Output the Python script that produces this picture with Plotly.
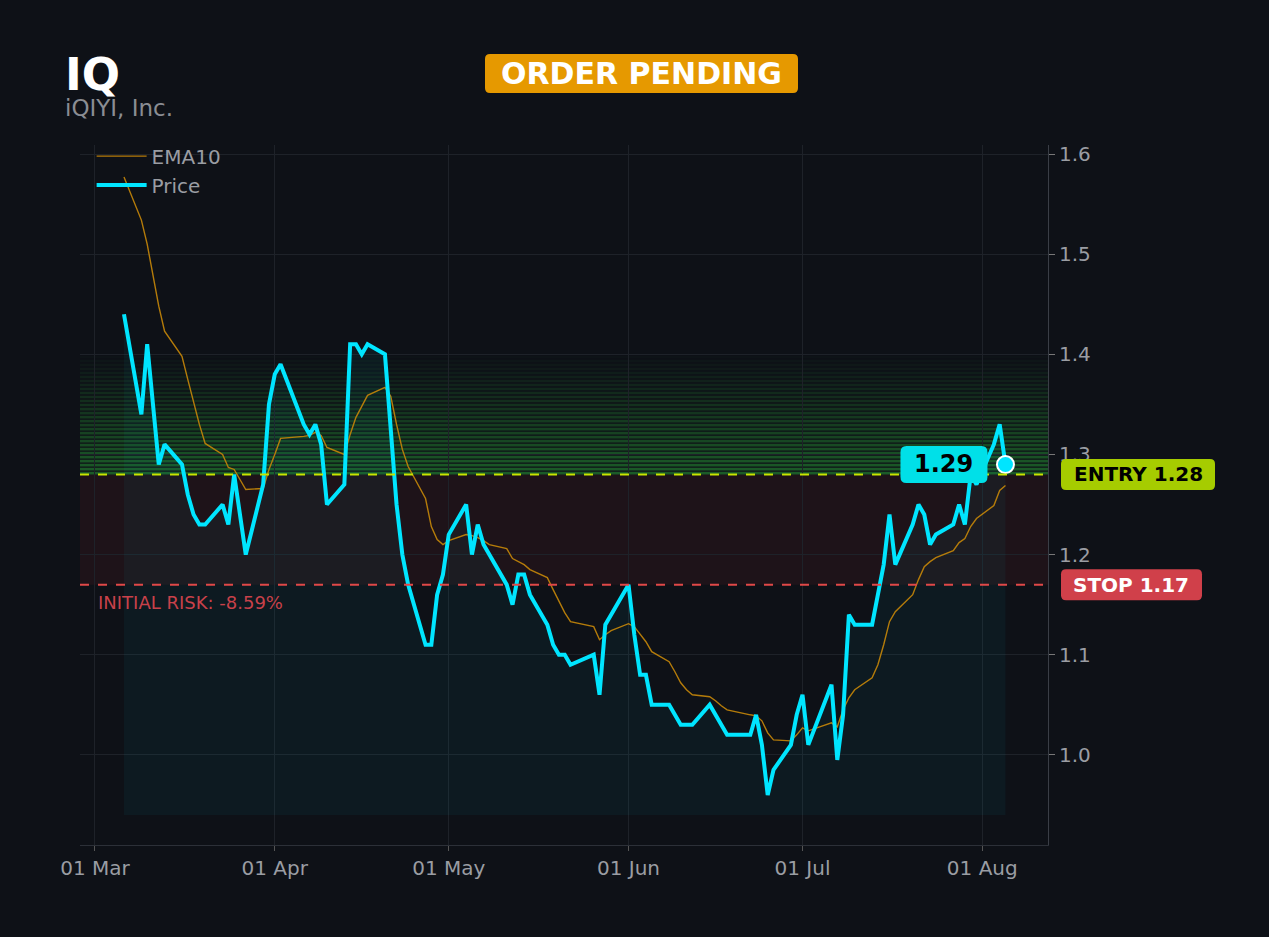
import pandas as pd
import plotly.graph_objects as go

# ---------------- data ----------------
HOLIDAYS = ["2026-04-03", "2026-05-25", "2026-06-19", "2026-07-03"]
dates = pd.bdate_range("2026-03-06", "2026-08-05", freq="C", holidays=HOLIDAYS)

price = [
    1.44,
    1.34, 1.41, 1.35, 1.29, 1.31,
    1.29, 1.26, 1.24, 1.23, 1.23,
    1.25, 1.23, 1.28, 1.24, 1.20,
    1.27, 1.35, 1.38, 1.39,
    1.33, 1.32, 1.33, 1.31, 1.25,
    1.27, 1.41, 1.41, 1.40, 1.41,
    1.40, 1.33, 1.25, 1.20, 1.17,
    1.11, 1.11, 1.16, 1.18, 1.22,
    1.25, 1.20, 1.23, 1.21, 1.20,
    1.17, 1.15, 1.18, 1.18, 1.16,
    1.13, 1.11, 1.10, 1.10, 1.09,
    1.10, 1.06, 1.13, 1.14,
    1.17, 1.12, 1.08, 1.08, 1.05,
    1.05, 1.04, 1.03, 1.03, 1.03,
    1.05, 1.04, 1.03, 1.02,
    1.02, 1.04, 1.01, 0.96, 0.985,
    1.01, 1.04, 1.06, 1.01,
    1.07, 0.995, 1.04, 1.14, 1.13,
    1.13, 1.16, 1.19, 1.24, 1.19,
    1.23, 1.25, 1.24, 1.21, 1.22,
    1.23, 1.25, 1.23, 1.28, 1.27,
    1.31, 1.33, 1.29,
]

ema10 = [
    1.577,
    1.534, 1.51, 1.48, 1.448, 1.423,
    1.398, 1.375, 1.351, 1.33, 1.311,
    1.30, 1.287, 1.285, 1.275, 1.265,
    1.266, 1.285, 1.30, 1.316,
    1.318, 1.319, 1.322, 1.319, 1.307,
    1.30, 1.32, 1.337, 1.348, 1.359,
    1.367, 1.358, 1.33, 1.305, 1.288,
    1.256, 1.228, 1.215, 1.21, 1.214,
    1.22, 1.219, 1.217, 1.214, 1.21,
    1.206, 1.196, 1.193, 1.19, 1.185,
    1.177, 1.165, 1.153, 1.142, 1.133,
    1.128, 1.115, 1.12, 1.124,
    1.131, 1.128, 1.12, 1.113, 1.103,
    1.093, 1.083, 1.072, 1.065, 1.06,
    1.058, 1.054, 1.049, 1.045,
    1.04, 1.039, 1.034, 1.022, 1.015,
    1.014, 1.02, 1.027, 1.024,
    1.032, 1.028, 1.045, 1.057, 1.065,
    1.077, 1.09, 1.11, 1.133, 1.143,
    1.16, 1.175, 1.188, 1.193, 1.197,
    1.204, 1.212, 1.216, 1.228, 1.236,
    1.249, 1.264, 1.269,
]

TICKER = "IQ"
COMPANY = "iQIYI, Inc."
STATUS = "ORDER PENDING"
ENTRY = 1.28
STOP = 1.17
TARGET_ZONE_TOP = 1.40
FILL_BASE = 0.94
RISK_PCT = -8.59
LAST_LABEL = "1.29"

x_tickvals = ["2026-03-01", "2026-04-01", "2026-05-01", "2026-06-01", "2026-07-01", "2026-08-01"]
x_ticktext = ["01 Mar", "01 Apr", "01 May", "01 Jun", "01 Jul", "01 Aug"]
y_tickvals = [1.0, 1.1, 1.2, 1.3, 1.4, 1.5, 1.6]
y_ticktext = ["1.0", "1.1", "1.2", "1.3", "1.4", "1.5", "1.6"]
X_RANGE = ["2026-02-26 10:00", "2026-08-12 08:00"]
Y_RANGE = [0.91, 1.609]

# ---------------- styles ----------------
BG = "#0e1117"
CYAN = "#00e5ff"
EMA_COLOR = "rgba(190,130,10,0.95)"
FONT = "DejaVu Sans"
TICK_COLOR = "#9a9da3"


def rounded_box(w, h, r, dx=0.0):
    """Rounded rectangle path in pixel offsets, centred at (dx, 0)."""
    x0, x1 = dx - w / 2, dx + w / 2
    y0, y1 = -h / 2, h / 2
    return (f"M {x0 + r},{y0} L {x1 - r},{y0} Q {x1},{y0} {x1},{y0 + r} "
            f"L {x1},{y1 - r} Q {x1},{y1} {x1 - r},{y1} L {x0 + r},{y1} "
            f"Q {x0},{y1} {x0},{y1 - r} L {x0},{y0 + r} Q {x0},{y0} {x0 + r},{y0} Z")


fig = go.Figure()

# baseline for fill
fig.add_trace(go.Scatter(
    x=dates, y=[FILL_BASE] * len(dates), mode="lines",
    line=dict(width=0, color="rgba(0,0,0,0)"), hoverinfo="skip", showlegend=False,
))
# price area fill to baseline
fig.add_trace(go.Scatter(
    x=dates, y=price, mode="lines", name="Price",
    line=dict(color="rgba(0,0,0,0)", width=0), fill="tonexty",
    fillcolor="rgba(0,229,255,0.045)", showlegend=False, hoverinfo="skip",
))
# EMA10
fig.add_trace(go.Scatter(
    x=dates, y=ema10, mode="lines", name="EMA10",
    line=dict(color=EMA_COLOR, width=1.4),
))
# price line
fig.add_trace(go.Scatter(
    x=dates, y=price, mode="lines", name="Price",
    line=dict(color=CYAN, width=4),
))
# last point marker
fig.add_trace(go.Scatter(
    x=[dates[-1]], y=[price[-1]], mode="markers", showlegend=False,
    marker=dict(color=CYAN, size=17, line=dict(color="white", width=2)),
))

shapes = []
# risk zone
shapes.append(dict(type="rect", xref="paper", x0=0, x1=1, yref="y", y0=STOP, y1=ENTRY,
                   fillcolor="rgba(200,40,55,0.09)", line=dict(width=0), layer="below"))
# gradient stripes above entry
N = 30
step = (TARGET_ZONE_TOP - ENTRY) / N
for i in range(N):
    a = 0.52 * (1 - i / N) ** 1.0
    shapes.append(dict(type="rect", xref="paper", x0=0, x1=1, yref="y",
                       y0=ENTRY + i * step, y1=ENTRY + i * step + step * 0.65,
                       fillcolor=f"rgba(40,160,55,{a:.3f})", line=dict(width=0), layer="below"))
# entry and stop lines
shapes.append(dict(type="line", xref="paper", x0=0, x1=1, yref="y", y0=ENTRY, y1=ENTRY,
                   line=dict(color="#c8e600", width=2, dash="dash")))
shapes.append(dict(type="line", xref="paper", x0=0, x1=1, yref="y", y0=STOP, y1=STOP,
                   line=dict(color="#e04848", width=2, dash="dash")))

# rounded label boxes (pixel-sized, anchored)
STATUS_X, STATUS_Y = 0.58006, 1.10214
ENTRY_X = 1.09298
STOP_X = 1.08626
shapes.append(dict(type="path", xref="paper", yref="paper", xsizemode="pixel", ysizemode="pixel",
                   xanchor=STATUS_X, yanchor=STATUS_Y, path=rounded_box(313, 39, 5),
                   fillcolor="#e69900", line=dict(width=0), layer="above"))
shapes.append(dict(type="path", xref="paper", yref="y", xsizemode="pixel", ysizemode="pixel",
                   xanchor=ENTRY_X, yanchor=ENTRY, path=rounded_box(154, 31, 5),
                   fillcolor="#a6cc00", line=dict(width=0), layer="above"))
shapes.append(dict(type="path", xref="paper", yref="y", xsizemode="pixel", ysizemode="pixel",
                   xanchor=STOP_X, yanchor=STOP, path=rounded_box(141, 31, 5),
                   fillcolor="#d0404a", line=dict(width=0), layer="above"))
shapes.append(dict(type="path", xref="x", yref="y", xsizemode="pixel", ysizemode="pixel",
                   xanchor=dates[-1], yanchor=price[-1], path=rounded_box(87, 37, 6, dx=-61.5),
                   fillcolor="#00e0e8", line=dict(width=0), layer="above"))

annotations = [
    dict(text=f"<b>{TICKER}</b>", xref="paper", yref="paper", x=-0.018, y=1.10,
         xanchor="left", yanchor="middle", showarrow=False,
         font=dict(family=FONT, size=45, color="white")),
    dict(text=COMPANY, xref="paper", yref="paper", x=-0.018, y=1.053,
         xanchor="left", yanchor="middle", showarrow=False,
         font=dict(family=FONT, size=23, color="#8a8d93")),
    dict(text=f"<b>{STATUS}</b>", xref="paper", yref="paper", x=STATUS_X, y=STATUS_Y,
         xanchor="center", yanchor="middle", showarrow=False,
         font=dict(family=FONT, size=30, color="white")),
    dict(text=f"<b>ENTRY {ENTRY:.2f}</b>", xref="paper", yref="y", x=ENTRY_X, y=ENTRY,
         xanchor="center", yanchor="middle", showarrow=False,
         font=dict(family=FONT, size=20, color="black")),
    dict(text=f"<b>STOP {STOP:.2f}</b>", xref="paper", yref="y", x=STOP_X, y=STOP,
         xanchor="center", yanchor="middle", showarrow=False,
         font=dict(family=FONT, size=20, color="white")),
    dict(text=f"INITIAL RISK: {RISK_PCT:.2f}%", xref="paper", yref="y", x=0.017, y=STOP,
         xanchor="left", yanchor="top", yshift=-5, showarrow=False,
         font=dict(family=FONT, size=18, color="#c8414a")),
    dict(text=f"<b>{LAST_LABEL}</b>", xref="x", yref="y", x=dates[-1], y=price[-1],
         xanchor="center", yanchor="middle", xshift=-61.5, showarrow=False,
         font=dict(family=FONT, size=24, color="black")),
]

fig.update_layout(
    width=1269, height=937,
    margin=dict(l=80, r=221, t=145, b=92),
    paper_bgcolor=BG, plot_bgcolor=BG,
    font=dict(family=FONT, color=TICK_COLOR, size=18),
    shapes=shapes, annotations=annotations,
    showlegend=True,
    legend=dict(x=0.012, y=1.012, xanchor="left", yanchor="top", bgcolor="rgba(0,0,0,0)",
                font=dict(family=FONT, size=20, color=TICK_COLOR), traceorder="normal",
                itemwidth=50),
    xaxis=dict(range=X_RANGE, tickvals=x_tickvals, ticktext=x_ticktext,
               showgrid=True, gridcolor="#1e2229", gridwidth=1, zeroline=False,
               showline=True, linecolor="#2c3038", mirror=False,
               ticks="outside", ticklen=5, tickcolor="#555",
               tickfont=dict(family=FONT, size=20, color=TICK_COLOR)),
    yaxis=dict(range=Y_RANGE, side="right", tickvals=y_tickvals, ticktext=y_ticktext,
               showgrid=True, gridcolor="#1e2229", gridwidth=1, zeroline=False,
               showline=True, linecolor="#3a3e46",
               ticks="outside", ticklen=6, tickcolor="#777",
               tickfont=dict(family=FONT, size=20, color=TICK_COLOR)),
)

fig.write_html(
    "out.html",
    config={"displayModeBar": False},
    post_script="document.body.style.margin='0';document.body.style.overflow='hidden';"
                "document.body.style.background='#0e1117';",
)
